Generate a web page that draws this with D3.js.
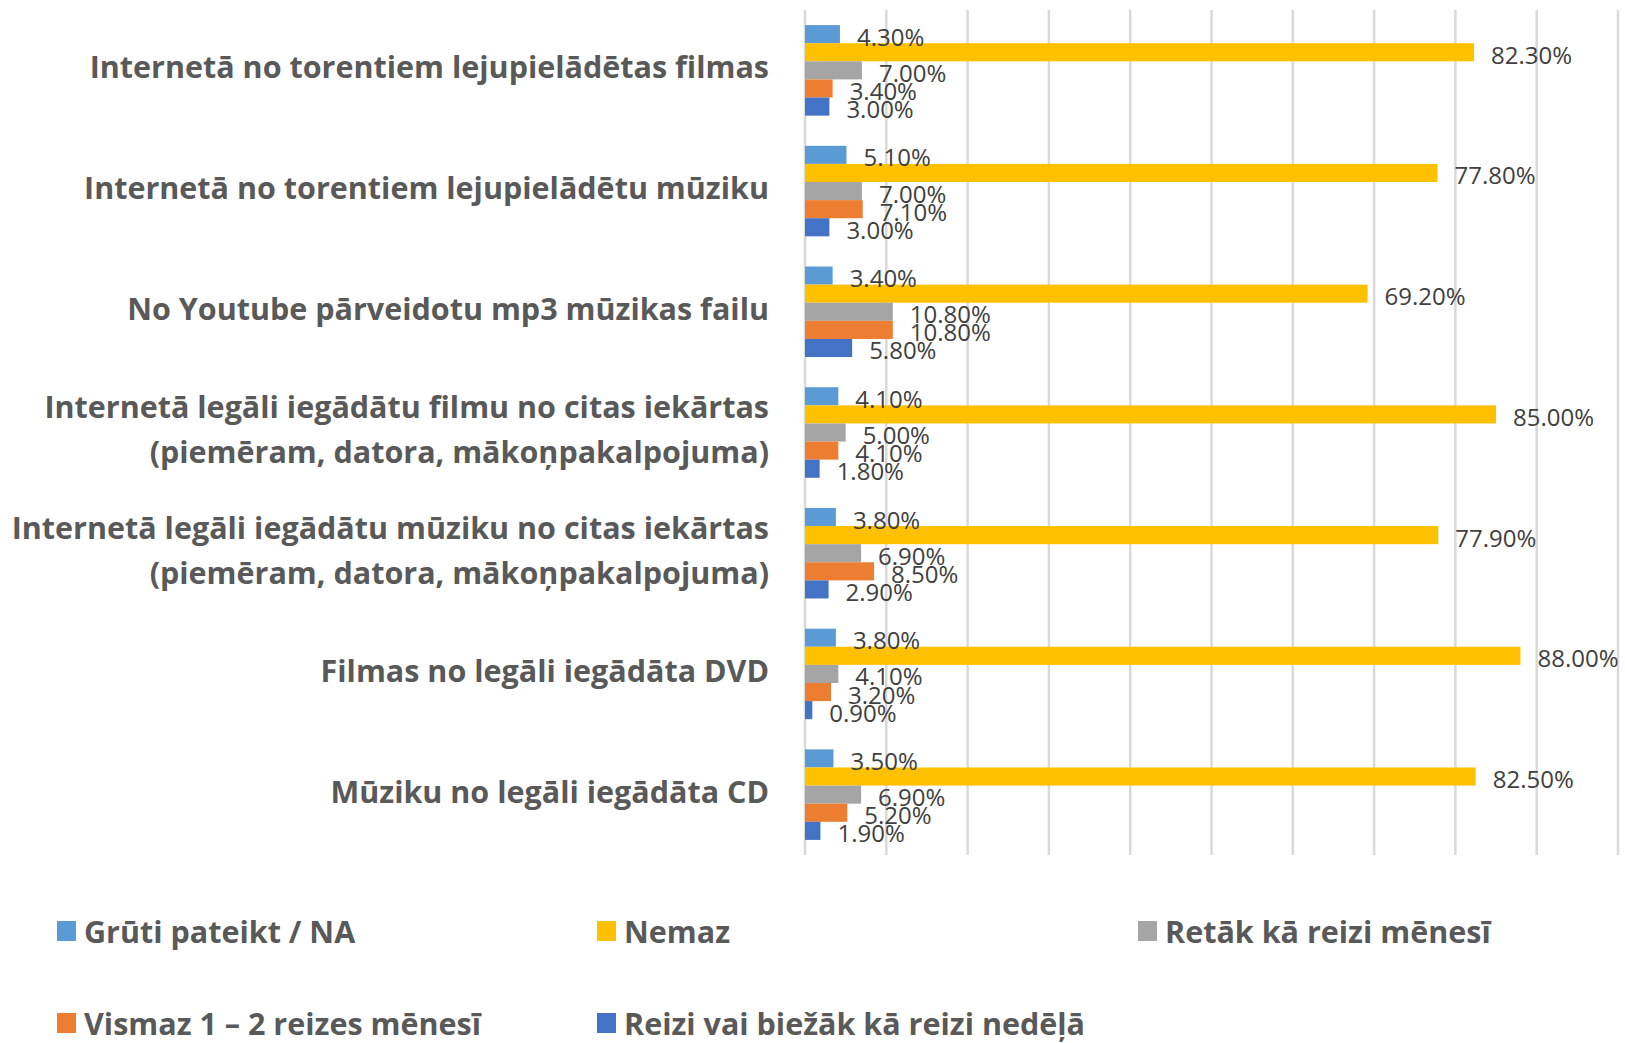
<!DOCTYPE html>
<html>
<head>
<meta charset="utf-8">
<script src="https://cdn.jsdelivr.net/npm/d3@7"></script>
<style>
  body { margin: 0; background: #fff; }
  svg { display: block; }
</style>
</head>
<body>
<script>
const width = 1625;
const height = 1043;

// categories, top to bottom (each entry = lines of label)
const categories = [
  ["Internetā no torentiem lejupielādētas filmas"],
  ["Internetā no torentiem lejupielādētu mūziku"],
  ["No Youtube pārveidotu mp3 mūzikas failu"],
  ["Internetā legāli iegādātu filmu no citas iekārtas", "(piemēram, datora, mākoņpakalpojuma)"],
  ["Internetā legāli iegādātu mūziku no citas iekārtas", "(piemēram, datora, mākoņpakalpojuma)"],
  ["Filmas no legāli iegādāta DVD"],
  ["Mūziku no legāli iegādāta CD"]
];

const seriesNames = [
  "Grūti pateikt / NA",
  "Nemaz",
  "Retāk kā reizi mēnesī",
  "Vismaz 1 – 2 reizes mēnesī",
  "Reizi vai biežāk kā reizi nedēļā"
];
const seriesColors = ["#5B9BD5", "#FFC000", "#A5A5A5", "#ED7D31", "#4472C4"];

// values per series, one per category (percent)
const gruti  = [4.3, 5.1, 3.4, 4.1, 3.8, 3.8, 3.5];
const nemaz  = [82.3, 77.8, 69.2, 85.0, 77.9, 88.0, 82.5];
const retak  = [7.0, 7.0, 10.8, 5.0, 6.9, 4.1, 6.9];
const vismaz = [3.4, 7.1, 10.8, 4.1, 8.5, 3.2, 5.2];
const reizi  = [3.0, 3.0, 5.8, 1.8, 2.9, 0.9, 1.9];
const seriesValues = [gruti, nemaz, retak, vismaz, reizi];

const xTicks = [0, 10, 20, 30, 40, 50, 60, 70, 80, 90, 100];

const svg = d3.select("body").append("svg")
  .attr("width", width)
  .attr("height", height);

const plot = { left: 805, right: 1618, top: 10, bottom: 855 };

const x = d3.scaleLinear().domain([0, 100]).range([plot.left, plot.right]);

const y = d3.scaleBand()
  .domain(d3.range(categories.length))
  .range([plot.top, plot.bottom])
  .paddingInner(0.25)
  .paddingOuter(0.125);

const ySub = d3.scaleBand()
  .domain(d3.range(seriesNames.length))
  .range([0, y.bandwidth()]);

// gridlines
svg.append("g")
  .selectAll("line")
  .data(xTicks)
  .join("line")
  .attr("x1", d => x(d))
  .attr("x2", d => x(d))
  .attr("y1", plot.top)
  .attr("y2", plot.bottom)
  .attr("stroke", "#D9D9D9")
  .attr("stroke-width", 2.5);

// bars
const groups = svg.append("g")
  .selectAll("g")
  .data(categories)
  .join("g")
  .attr("transform", (d, i) => `translate(0,${y(i)})`);

groups.each(function(cat, ci) {
  const g = d3.select(this);
  const rows = seriesValues.map((vals, si) => ({ si, v: vals[ci] }));
  g.selectAll("rect")
    .data(rows)
    .join("rect")
    .attr("x", x(0))
    .attr("y", d => ySub(d.si))
    .attr("width", d => x(d.v) - x(0))
    .attr("height", ySub.bandwidth())
    .attr("fill", d => seriesColors[d.si]);
  g.selectAll("text")
    .data(rows)
    .join("text")
    .attr("x", d => x(d.v) + 17)
    .attr("y", d => ySub(d.si) + ySub.bandwidth() / 2 + 2)
    .attr("dominant-baseline", "central")
    .attr("font-family", "'Open Sans', sans-serif")
    .attr("font-size", 24)
    .attr("fill", "#404040")
    .text(d => d.v.toFixed(2) + "%");
});

// category labels
const lineH = 45;
svg.append("g")
  .selectAll("text")
  .data(categories)
  .join("text")
  .attr("text-anchor", "end")
  .attr("font-family", "'Open Sans', sans-serif")
  .attr("font-weight", "bold")
  .attr("font-size", 30.5)
  .attr("fill", "#595959")
  .each(function(lines, i) {
    const cy = y(i) + y.bandwidth() / 2 - 4;
    const t = d3.select(this);
    lines.forEach((ln, k) => {
      t.append("tspan")
        .attr("x", 769)
        .attr("y", cy + (k - (lines.length - 1) / 2) * lineH)
        .attr("dominant-baseline", "central")
        .text(ln);
    });
  });

// legend
const legendPos = [
  { x: 57, y: 931 }, { x: 597, y: 931 }, { x: 1138, y: 931 },
  { x: 57, y: 1023 }, { x: 597, y: 1023 }
];
const legend = svg.append("g")
  .selectAll("g")
  .data(seriesNames)
  .join("g")
  .attr("transform", (d, i) => `translate(${legendPos[i].x},${legendPos[i].y})`);

legend.append("rect")
  .attr("x", 0)
  .attr("y", -10)
  .attr("width", 19)
  .attr("height", 20)
  .attr("fill", (d, i) => seriesColors[i]);

legend.append("text")
  .attr("x", 27)
  .attr("y", 0)
  .attr("dominant-baseline", "central")
  .attr("font-family", "'Open Sans', sans-serif")
  .attr("font-weight", "bold")
  .attr("font-size", 30.5)
  .attr("fill", "#595959")
  .text(d => d);
</script>
</body>
</html>
